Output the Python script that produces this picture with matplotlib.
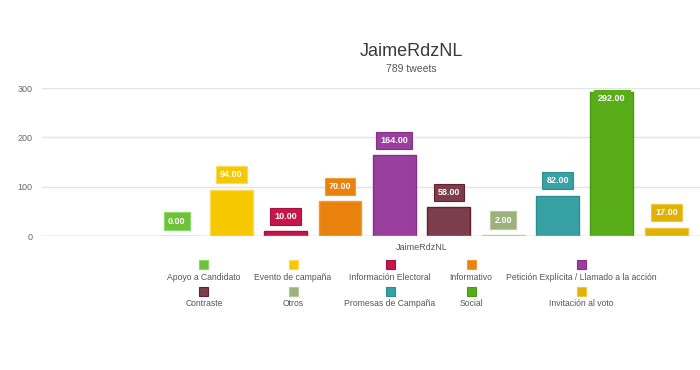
import matplotlib
matplotlib.use("Agg")
import matplotlib.pyplot as plt
from matplotlib.patches import Rectangle

plt.rcParams['font.family'] = ['Liberation Sans', 'DejaVu Sans']

title = "JaimeRdzNL"
subtitle = "789 tweets"
group_label = "JaimeRdzNL"
categories = ["Apoyo a Candidato", "Evento de campaña", "Información Electoral",
              "Informativo", "Petición Explícita / Llamado a la acción",
              "Contraste", "Otros", "Promesas de Campaña", "Social",
              "Invitación al voto"]
values = [0, 94, 10, 70, 164, 58, 2, 82, 292, 17]
colors = ["#6cc23a", "#f6c800", "#c8164b", "#e8820c", "#9b3f9e",
          "#7c3d4d", "#9cb27d", "#37a1a4", "#58ad19", "#e1b000"]
edges = ["#8ad866", "#fbd95c", "#a5103d", "#f09a3a", "#852f88",
         "#651f31", "#b5c79d", "#2e8d90", "#4a9a12", "#ecc640"]
yticks = [0, 100, 200, 300]

W, H = 700, 370
fig = plt.figure(figsize=(7, 3.7), dpi=100)
ax_left, ax_right, ax_top, ax_bot = 42, 700, 88, 236
ax = fig.add_axes([ax_left / W, 1 - ax_bot / H, (ax_right - ax_left) / W, (ax_bot - ax_top) / H])

x = list(range(len(values)))
ax.bar(x, values, width=0.79, color=colors, edgecolor=edges, linewidth=1, zorder=3)
ax.set_xlim(-2.48, 9.62)
ax.set_ylim(0, 300)

for s in ax.spines.values():
    s.set_visible(False)
ax.set_yticks(yticks)
ax.set_yticklabels([str(t) for t in yticks], fontsize=6.5, color="#666666")
ax.tick_params(axis='y', length=0, pad=7)
ax.set_xticks([])
ax.grid(axis='y', color="#e4e4e4", linewidth=1, zorder=0)
ax.axhline(0, color="#d8d8d8", linewidth=1, zorder=4)

for xi, v, c, e in zip(x, values, colors, edges):
    if v > 270:
        ax.annotate(f"{v:.2f}", (xi, v), xytext=(0, -5), textcoords='offset points',
                    ha='center', va='center', fontsize=6.5, fontweight='bold', color='white',
                    bbox=dict(boxstyle='square,pad=0.45', fc=c, ec=c, lw=0.8), zorder=5,
                    annotation_clip=False)
    else:
        ax.annotate(f"{v:.2f}", (xi, v), xytext=(0, 10.8), textcoords='offset points',
                    ha='center', va='center', fontsize=6.5, fontweight='bold', color='white',
                    bbox=dict(boxstyle='square,pad=0.45', fc=c, ec=e, lw=0.8), zorder=5,
                    annotation_clip=False)

# group label
fig.text(422 / W, 1 - 247 / H, group_label, ha='center', va='center', fontsize=6.5, color="#555555")

# title
fig.text(411 / W, 1 - 51 / H, title, ha='center', va='center', fontsize=13,
         color="#3a3a3a")
fig.text(411 / W, 1 - 69 / H, subtitle, ha='center', va='center', fontsize=7.5, color="#555555")

# legend
col_x = [204, 293, 390, 471, 581]
row_y = [(264, 277), (291, 304)]
for i, (name, c, e) in enumerate(zip(categories, colors, edges)):
    r, col = divmod(i, 5)
    cx = col_x[col]
    my, ty = row_y[r]
    sq = 9
    fig.patches.append(Rectangle(((cx - sq / 2) / W, 1 - (my + sq / 2) / H), sq / W, sq / H,
                                 transform=fig.transFigure, facecolor=c, edgecolor=e,
                                 linewidth=0.8))
    fig.text(cx / W, 1 - ty / H, name, ha='center', va='center', fontsize=6.2, color="#555555")

fig.savefig("out.png", dpi=100, facecolor='white')
